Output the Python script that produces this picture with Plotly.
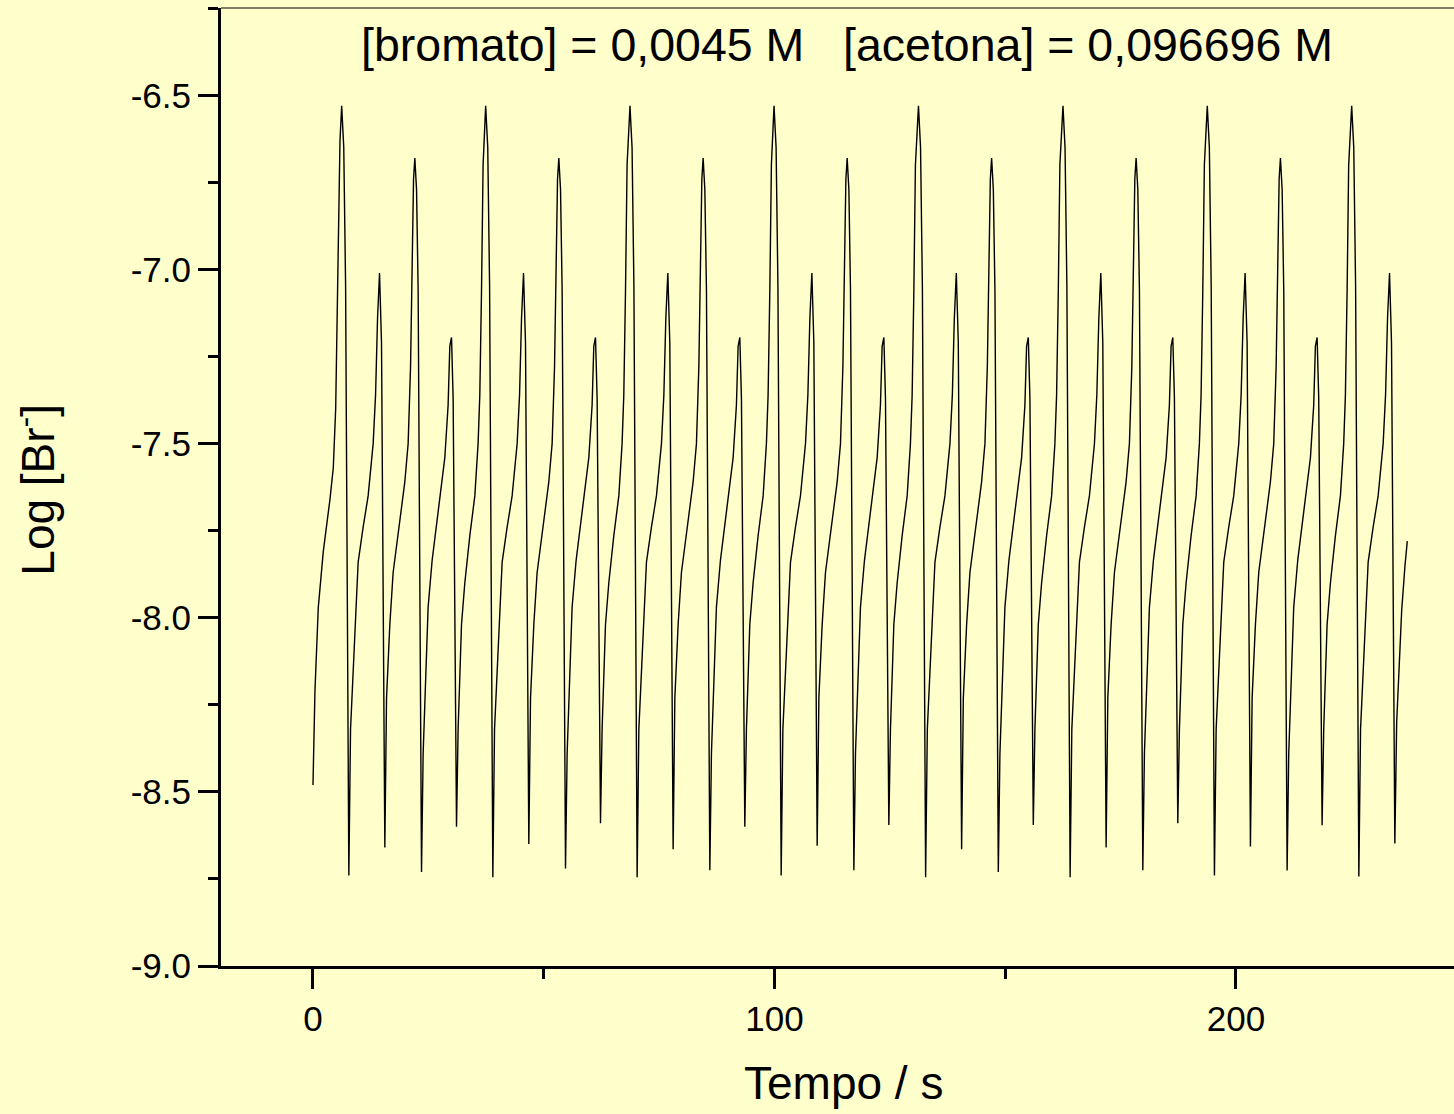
import plotly.graph_objects as go

# ---------------- data ----------------
# time (s) and Log[Br-] for the start of the run
t_start = [0.00, 0.43, 1.15, 2.23, 3.68, 4.40, 4.92, 5.27, 5.48, 5.85]
v_start = [-8.48, -8.21, -7.97, -7.81, -7.66, -7.57, -7.40, -7.15, -6.93, -6.63]

t_c1 = [6.22, 6.67, 7.07, 7.77, 8.14, 8.92, 9.79, 10.87, 11.95, 13.04, 13.56, 13.99, 14.42, 14.85, 15.57,
        15.94, 16.65, 17.37, 18.45, 19.90, 20.62, 21.14, 21.49, 21.79, 22.07, 22.44, 22.79, 23.52,
        23.87, 24.39, 24.95, 25.82, 26.77, 27.64, 28.57, 29.28, 29.65, 30.02, 30.37, 31.10,
        31.45, 32.18, 32.90, 33.98, 35.07, 35.78, 36.15, 36.52, 36.86]
v_c1 = [-6.53, -6.65, -7.05, -8.74, -8.32, -8.09, -7.84, -7.74, -7.65, -7.50, -7.36, -7.14, -7.01, -7.21, -8.66,
        -8.23, -8.02, -7.87, -7.755, -7.61, -7.50, -7.28, -6.99, -6.74, -6.68, -6.77, -7.06, -8.73,
        -8.39, -8.17, -7.97, -7.835, -7.73, -7.64, -7.54, -7.39, -7.22, -7.195, -7.37, -8.60,
        -8.32, -8.02, -7.90, -7.765, -7.65, -7.50, -7.36, -7.06, -6.70]

t_c2 = [37.42, 37.87, 38.27, 38.97, 39.34, 40.12, 40.99, 42.07, 43.15, 44.24, 44.76, 45.19, 45.62, 46.05, 46.77,
        47.14, 47.85, 48.57, 49.65, 51.10, 51.82, 52.34, 52.69, 52.99, 53.27, 53.64, 53.99, 54.72,
        55.07, 55.59, 56.15, 57.02, 57.97, 58.84, 59.77, 60.48, 60.85, 61.22, 61.57, 62.30,
        62.65, 63.38, 64.10, 65.18, 66.27, 66.98, 67.35, 67.72, 68.06]
v_c2 = [-6.53, -6.65, -7.05, -8.745, -8.32, -8.09, -7.84, -7.74, -7.65, -7.50, -7.36, -7.14, -7.01, -7.21, -8.65,
        -8.23, -8.02, -7.87, -7.755, -7.61, -7.50, -7.28, -6.99, -6.74, -6.68, -6.77, -7.06, -8.72,
        -8.39, -8.17, -7.97, -7.835, -7.73, -7.64, -7.54, -7.39, -7.22, -7.195, -7.37, -8.59,
        -8.32, -8.02, -7.90, -7.765, -7.65, -7.50, -7.36, -7.06, -6.70]

t_c3 = [68.69, 69.14, 69.54, 70.24, 70.61, 71.39, 72.26, 73.34, 74.42, 75.51, 76.03, 76.46, 76.89, 77.32, 78.04,
        78.41, 79.12, 79.84, 80.92, 82.37, 83.09, 83.61, 83.96, 84.26, 84.54, 84.91, 85.26, 85.99,
        86.34, 86.86, 87.42, 88.29, 89.24, 90.11, 91.04, 91.75, 92.12, 92.49, 92.84, 93.57,
        93.92, 94.65, 95.37, 96.45, 97.54, 98.25, 98.62, 98.99, 99.33]
v_c3 = [-6.53, -6.65, -7.05, -8.745, -8.32, -8.09, -7.84, -7.74, -7.65, -7.50, -7.36, -7.14, -7.01, -7.21, -8.665,
        -8.23, -8.02, -7.87, -7.755, -7.61, -7.50, -7.28, -6.99, -6.74, -6.68, -6.77, -7.06, -8.725,
        -8.39, -8.17, -7.97, -7.835, -7.73, -7.64, -7.54, -7.39, -7.22, -7.195, -7.37, -8.60,
        -8.32, -8.02, -7.90, -7.765, -7.65, -7.50, -7.36, -7.06, -6.70]

t_c4 = [99.90, 100.35, 100.75, 101.45, 101.82, 102.60, 103.47, 104.55, 105.63, 106.72, 107.24, 107.67, 108.10, 108.53, 109.25,
        109.62, 110.33, 111.05, 112.13, 113.58, 114.30, 114.82, 115.17, 115.47, 115.75, 116.12, 116.47, 117.20,
        117.55, 118.07, 118.63, 119.50, 120.45, 121.32, 122.25, 122.96, 123.33, 123.70, 124.05, 124.78,
        125.13, 125.86, 126.58, 127.66, 128.75, 129.46, 129.83, 130.20, 130.54]
v_c4 = [-6.53, -6.65, -7.05, -8.74, -8.32, -8.09, -7.84, -7.74, -7.65, -7.50, -7.36, -7.14, -7.01, -7.21, -8.655,
        -8.23, -8.02, -7.87, -7.755, -7.61, -7.50, -7.28, -6.99, -6.74, -6.68, -6.77, -7.06, -8.725,
        -8.39, -8.17, -7.97, -7.835, -7.73, -7.64, -7.54, -7.39, -7.22, -7.195, -7.37, -8.595,
        -8.32, -8.02, -7.90, -7.765, -7.65, -7.50, -7.36, -7.06, -6.70]

t_c5 = [131.20, 131.65, 132.05, 132.75, 133.12, 133.90, 134.77, 135.85, 136.93, 138.02, 138.54, 138.97, 139.40, 139.83, 140.55,
        140.92, 141.63, 142.35, 143.43, 144.88, 145.60, 146.12, 146.47, 146.77, 147.05, 147.42, 147.77, 148.50,
        148.85, 149.37, 149.93, 150.80, 151.75, 152.62, 153.55, 154.26, 154.63, 155.00, 155.35, 156.08,
        156.43, 157.16, 157.88, 158.96, 160.05, 160.76, 161.13, 161.50, 161.84]
v_c5 = [-6.53, -6.65, -7.05, -8.745, -8.32, -8.09, -7.84, -7.74, -7.65, -7.50, -7.36, -7.14, -7.01, -7.21, -8.665,
        -8.23, -8.02, -7.87, -7.755, -7.61, -7.50, -7.28, -6.99, -6.74, -6.68, -6.77, -7.06, -8.73,
        -8.39, -8.17, -7.97, -7.835, -7.73, -7.64, -7.54, -7.39, -7.22, -7.195, -7.37, -8.595,
        -8.32, -8.02, -7.90, -7.765, -7.65, -7.50, -7.36, -7.06, -6.70]

t_c6 = [162.51, 162.96, 163.36, 164.06, 164.43, 165.21, 166.08, 167.16, 168.24, 169.33, 169.85, 170.28, 170.71, 171.14, 171.86,
        172.23, 172.94, 173.66, 174.74, 176.19, 176.91, 177.43, 177.78, 178.08, 178.36, 178.73, 179.08, 179.81,
        180.16, 180.68, 181.24, 182.11, 183.06, 183.93, 184.86, 185.57, 185.94, 186.31, 186.66, 187.39,
        187.74, 188.47, 189.19, 190.27, 191.36, 192.07, 192.44, 192.81, 193.15]
v_c6 = [-6.53, -6.65, -7.05, -8.745, -8.32, -8.09, -7.84, -7.74, -7.65, -7.50, -7.36, -7.14, -7.01, -7.21, -8.66,
        -8.23, -8.02, -7.87, -7.755, -7.61, -7.50, -7.28, -6.99, -6.74, -6.68, -6.77, -7.06, -8.725,
        -8.39, -8.17, -7.97, -7.835, -7.73, -7.64, -7.54, -7.39, -7.22, -7.195, -7.37, -8.59,
        -8.32, -8.02, -7.90, -7.765, -7.65, -7.50, -7.36, -7.06, -6.70]

t_c7 = [193.78, 194.23, 194.63, 195.33, 195.70, 196.48, 197.35, 198.43, 199.51, 200.60, 201.12, 201.55, 201.98, 202.41, 203.13,
        203.50, 204.21, 204.93, 206.01, 207.46, 208.18, 208.70, 209.05, 209.35, 209.63, 210.00, 210.35, 211.08,
        211.43, 211.95, 212.51, 213.38, 214.33, 215.20, 216.13, 216.84, 217.21, 217.58, 217.93, 218.66,
        219.01, 219.74, 220.46, 221.54, 222.63, 223.34, 223.71, 224.08, 224.42]
v_c7 = [-6.53, -6.65, -7.05, -8.74, -8.32, -8.09, -7.84, -7.74, -7.65, -7.50, -7.36, -7.14, -7.01, -7.21, -8.657,
        -8.23, -8.02, -7.87, -7.755, -7.61, -7.50, -7.28, -6.99, -6.74, -6.68, -6.77, -7.06, -8.726,
        -8.39, -8.17, -7.97, -7.835, -7.73, -7.64, -7.54, -7.39, -7.22, -7.195, -7.37, -8.596,
        -8.32, -8.02, -7.90, -7.765, -7.65, -7.50, -7.36, -7.06, -6.70]

t_c8 = [225.07, 225.52, 225.92, 226.62, 226.99, 227.77, 228.64, 229.72, 230.80, 231.89, 232.41, 232.84, 233.27, 233.70, 234.42,
        234.82, 235.53, 235.90, 236.62, 237.12]
v_c8 = [-6.53, -6.65, -7.05, -8.743, -8.32, -8.09, -7.84, -7.74, -7.65, -7.50, -7.36, -7.14, -7.01, -7.21, -8.648,
        -8.30, -8.09, -7.98, -7.85, -7.78]

x_tick_vals = [0, 100, 200]
x_tick_text = ["0", "100", "200"]
y_tick_vals = [-9.0, -8.5, -8.0, -7.5, -7.0, -6.5]
y_tick_text = ["-9.0", "-8.5", "-8.0", "-7.5", "-7.0", "-6.5"]

title_text = "[bromato] = 0,0045 M\u00a0\u00a0\u00a0[acetona] = 0,096696 M"
x_title = "Tempo / s"
y_title = "Log [Br<sup>-</sup>]"

# ---------------- assemble series ----------------
t_parts = [t_start, t_c1, t_c2, t_c3, t_c4, t_c5, t_c6, t_c7, t_c8]
v_parts = [v_start, v_c1, v_c2, v_c3, v_c4, v_c5, v_c6, v_c7, v_c8]
tempo, logbr = [], []
for tp, vp in zip(t_parts, v_parts):
    assert len(tp) == len(vp), (len(tp), len(vp))
    tempo += tp
    logbr += vp

# ---------------- figure ----------------
FONT = "Liberation Sans, Arial, Helvetica, sans-serif"
BG = "#FFFFCC"

fig = go.Figure()
fig.add_trace(go.Scatter(x=tempo, y=logbr, mode="lines",
                         line=dict(color="black", width=1.4),
                         hoverinfo="skip", showlegend=False))

axis_common = dict(showgrid=False, zeroline=False, showline=True, linecolor="black",
                   linewidth=3, ticks="outside", tickcolor="black", tickwidth=3,
                   ticklen=20, tickfont=dict(family=FONT, size=35, color="black"))

fig.update_xaxes(range=[-19.93, 247.24], tickmode="array", tickvals=x_tick_vals,
                 ticktext=x_tick_text,
                 minor=dict(ticks="outside", ticklen=10, tickwidth=3, tickcolor="black",
                            tickmode="linear", tick0=0, dtick=50, showgrid=False),
                 **axis_common)
fig.update_yaxes(range=[-9.0, -6.249], tickmode="array", tickvals=y_tick_vals,
                 ticktext=y_tick_text,
                 minor=dict(ticks="outside", ticklen=10, tickwidth=3, tickcolor="black",
                            tickmode="linear", tick0=-9.0, dtick=0.25, showgrid=False),
                 **axis_common)

fig.update_layout(
    width=1454, height=1114,
    margin=dict(l=221, r=0, t=8, b=148, pad=0),
    paper_bgcolor=BG, plot_bgcolor=BG,
    font=dict(family=FONT, color="black"),
    shapes=[dict(type="line", xref="paper", yref="paper", x0=0, x1=1, y0=1, y1=1,
                 line=dict(color="black", width=1.2))],
    annotations=[
        dict(text=title_text, xref="paper", yref="paper", x=0.508, y=0.961,
             xanchor="center", yanchor="middle", showarrow=False,
             font=dict(family=FONT, size=46.5, color="black")),
        dict(text=x_title, xref="paper", yref="paper", x=0.505, y=-0.122,
             xanchor="center", yanchor="middle", showarrow=False,
             font=dict(family=FONT, size=46, color="black")),
        dict(text=y_title, xref="paper", yref="paper", x=-0.151, y=0.497,
             xanchor="center", yanchor="middle", showarrow=False, textangle=-90,
             font=dict(family=FONT, size=46, color="black")),
    ],
)

fig.write_html(
    "out.html",
    config={"displayModeBar": False},
    post_script="document.body.style.margin='0px';document.body.style.background='#FFFFCC';document.body.style.overflow='hidden';",
)
